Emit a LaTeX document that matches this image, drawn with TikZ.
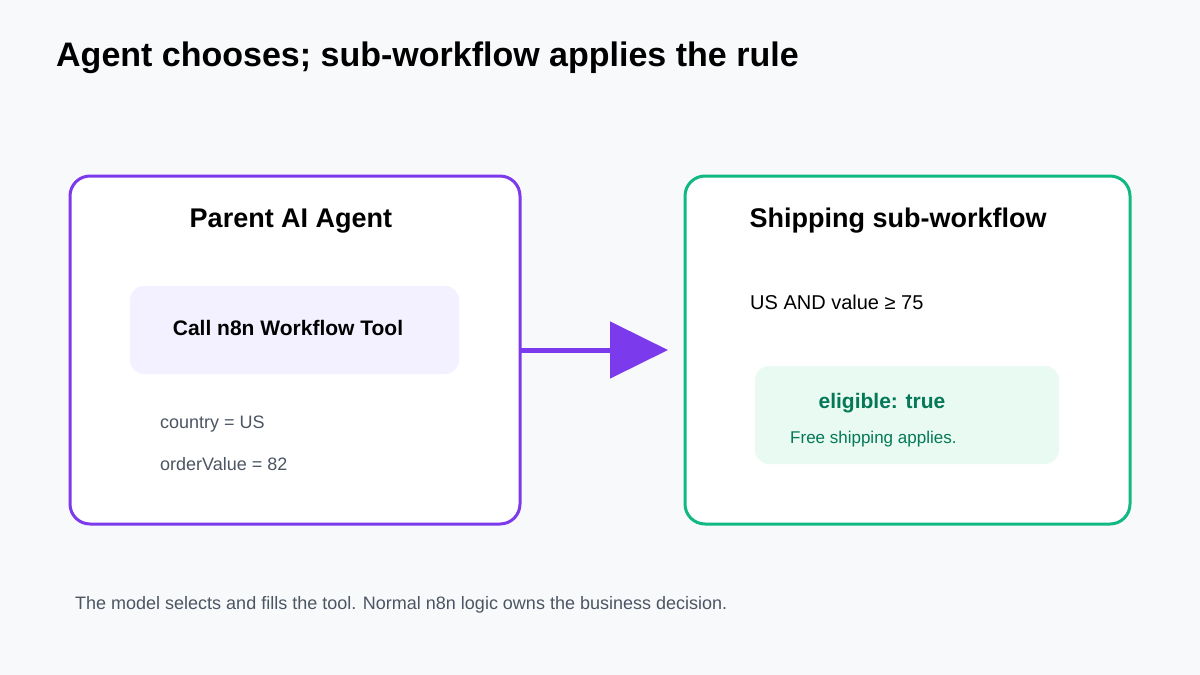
\documentclass[tikz,border=0pt]{standalone}
\usepackage{fontspec}
\setmainfont{Liberation Sans}
\usetikzlibrary{arrows.meta,positioning}
\definecolor{bgc}{HTML}{F8F9FB}
\definecolor{agentc}{HTML}{7C3AED}
\definecolor{agentfill}{HTML}{F3F0FF}
\definecolor{shipc}{HTML}{10B981}
\definecolor{shipfill}{HTML}{E8FAF1}
\definecolor{okc}{HTML}{047857}
\definecolor{mutedc}{HTML}{4B5563}
\tikzset{
  panel/.style={line width=3pt, fill=white, rounded corners=20pt},
  inner/.style={rounded corners=14pt},
  head/.style={font=\bfseries\fontsize{27}{31}\selectfont},
  note/.style={anchor=west, inner sep=0pt, text=mutedc, font=\fontsize{18}{21}\selectfont}
}
\begin{document}
\begin{tikzpicture}[x=1pt,y=-1pt]
  \fill[bgc] (0,0) rectangle (1200,675);
  \useasboundingbox (0,0) rectangle (1200,675);
  \node[anchor=west, inner sep=0pt, font=\bfseries\fontsize{34}{40}\selectfont] (title) at (56,58)
    {Agent chooses; sub-workflow applies the rule};
  % parent agent
  \draw[panel, draw=agentc] (70,176) rectangle (520,524);
  \coordinate (agentout) at (520,350);
  \node[head] (agenthead) at (291,221) {Parent AI Agent};
  \fill[inner, agentfill] (130,286) rectangle (459,374);
  \node[font=\bfseries\fontsize{21}{25}\selectfont] (calltool) at (288,328) {Call n8n Workflow Tool};
  \node[note] (country) at (160,424) {country = US};
  \node[note] (ordervalue) at (160,464) {orderValue = 82};
  % shipping sub-workflow
  \draw[panel, draw=shipc] (685,176) rectangle (1130,524);
  \coordinate (shipin) at (685,350);
  \node[head] (shiphead) at (898,221) {Shipping sub-workflow};
  \node[anchor=west, inner sep=0pt, font=\fontsize{20}{24}\selectfont] (rule) at (750,302) {US AND value ≥ 75};
  \fill[inner, shipfill] (755,366) rectangle (1059,464);
  \node[text=okc, font=\bfseries\fontsize{21}{25}\selectfont] (eligible) at (882,403) {eligible: true};
  \node[anchor=west, inner sep=0pt, text=okc, font=\fontsize{17}{20}\selectfont] (free) at (790,439) {Free shipping applies.};
  % arrow
  \draw[agentc, line width=5pt, shorten >=17pt, -{Triangle[length=58pt,width=56pt]}] (agentout) -- (shipin);
  \node[note] (footer) at (75,605)
    {The model selects and fills the tool. Normal n8n logic owns the business decision.};
\end{tikzpicture}
\end{document}
